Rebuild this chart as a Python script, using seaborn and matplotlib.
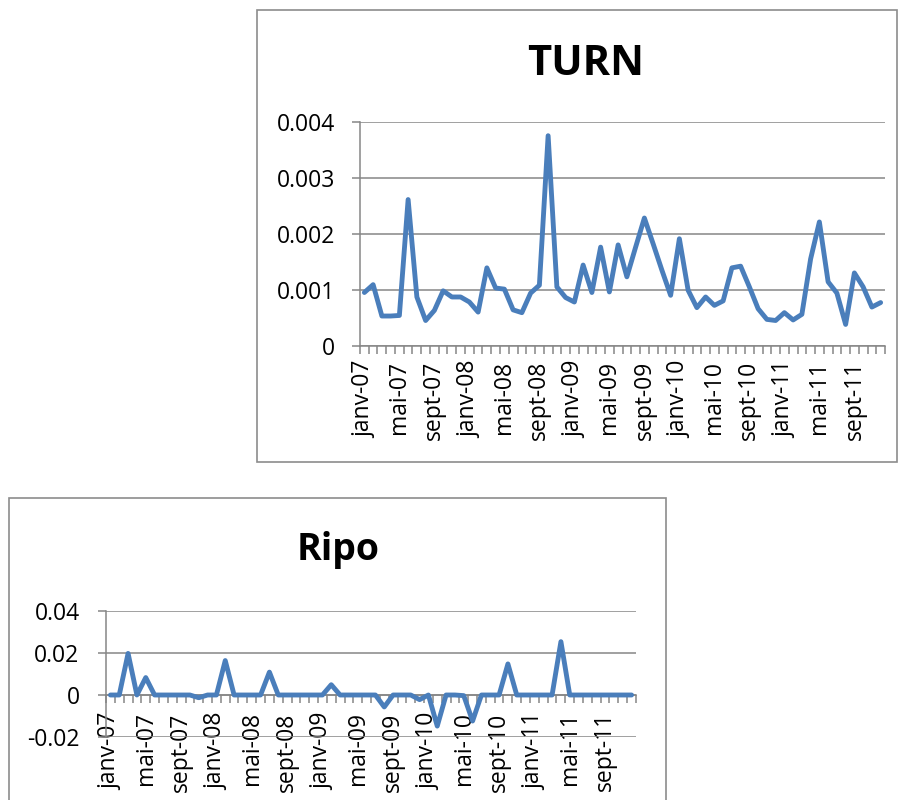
import matplotlib
matplotlib.use("Agg")
import matplotlib.pyplot as plt
from matplotlib.patches import Rectangle
import numpy as np
import pandas as pd
import seaborn as sns

# Monthly series, January 2007 to December 2011
month_names = ["janv", "févr", "mars", "avr", "mai", "juin",
               "juil", "août", "sept", "oct", "nov", "déc"]
years = ["07", "08", "09", "10", "11"]
periods = [f"{m}-{y}" for y in years for m in month_names]

turn = [0.00095, 0.00109, 0.00053, 0.00053, 0.00054, 0.00261, 0.00087, 0.00045, 0.00063, 0.00098,
        0.00087, 0.00087, 0.00078, 0.00060, 0.00139, 0.00103, 0.00101, 0.00064, 0.00059, 0.00094,
        0.00108, 0.00375, 0.00105, 0.00086, 0.00078, 0.00144, 0.00095, 0.00176, 0.00096, 0.00180,
        0.00123, 0.00176, 0.00228, 0.00182, 0.00135, 0.00090, 0.00191, 0.00099, 0.00068, 0.00087,
        0.00072, 0.00080, 0.00139, 0.00142, 0.00105, 0.00066, 0.00047, 0.00045, 0.00059, 0.00046,
        0.00056, 0.00155, 0.00221, 0.00114, 0.00094, 0.00038, 0.00130, 0.00105, 0.00069, 0.00077]

ripo = [0.0, 0.0, 0.0198, 0.0, 0.0083, 0.0, 0.0, 0.0, 0.0, 0.0,
        -0.0013, 0.0, 0.0, 0.0164, 0.0, 0.0, 0.0, 0.0, 0.0109, 0.0,
        0.0, 0.0, 0.0, 0.0, 0.0, 0.0049, 0.0, 0.0, 0.0, 0.0,
        0.0, -0.0057, 0.0, 0.0, 0.0, -0.0022, 0.0, -0.0148, 0.0, 0.0,
        -0.0003, -0.0124, 0.0, 0.0, 0.0, 0.0148, 0.0, 0.0, 0.0, 0.0,
        0.0, 0.0254, 0.0, 0.0, 0.0, 0.0, 0.0, 0.0, 0.0, 0.0]

turn_ticks = [0, 0.001, 0.002, 0.003, 0.004]
turn_tick_labels = ["0", "0.001", "0.002", "0.003", "0.004"]
ripo_ticks = [-0.02, 0, 0.02, 0.04]
ripo_tick_labels = ["-0.02", "0", "0.02", "0.04"]

LINE = "#4A7EBB"
GRID = "#868686"
FRAME = "#8C8C8C"

sns.set_style("white")
plt.rcParams["font.family"] = ["Open Sans", "DejaVu Sans"]
plt.rcParams["text.color"] = "black"

W, H = 904, 800
fig = plt.figure(figsize=(W / 100, H / 100), dpi=100)
fig.patch.set_facecolor("white")


def px_axes(left, top, right, bottom):
    return fig.add_axes([left / W, 1 - bottom / H, (right - left) / W, (bottom - top) / H])


def frame(left, top, right, bottom):
    fig.add_artist(Rectangle((left / W, 1 - bottom / H), (right - left) / W, (bottom - top) / H,
                             transform=fig.transFigure, fill=False, edgecolor=FRAME, lw=1.2))


def panel(ax, values, yticks, ylabels, ylim, label_pad, ypad, zero_axis=False):
    df = pd.DataFrame({"month": np.arange(len(values)), "value": values})
    sns.lineplot(data=df, x="month", y="value", ax=ax, color=LINE, lw=3.5,
                 solid_joinstyle="round", solid_capstyle="round", zorder=3)
    ax.set_xlim(-0.5, len(values) - 0.5)
    ax.set_ylim(*ylim)
    ax.set_xlabel("")
    ax.set_ylabel("")
    ax.set_facecolor("white")
    for s in ("top", "right"):
        ax.spines[s].set_visible(False)
    for s in ("left", "bottom"):
        ax.spines[s].set_color(GRID)
        ax.spines[s].set_linewidth(1.1)
    if zero_axis:
        ax.spines["bottom"].set_position(("data", 0))
    ax.set_yticks(yticks)
    ax.set_yticklabels(ylabels)
    ax.yaxis.grid(True, color=GRID, lw=1.1)
    ax.set_axisbelow(True)
    ax.tick_params(axis="y", direction="out", length=6, width=1.1, color=GRID,
                   labelsize=16.5, pad=ypad, left=True, labelcolor="black")
    # labels at every fourth month, tick marks between categories
    major = list(range(0, len(values), 4))
    ax.set_xticks(major)
    ax.set_xticklabels([periods[i] for i in major], rotation=90, ha="center", va="top")
    ax.set_xticks(np.arange(-0.5, len(values), 1.0), minor=True)
    ax.tick_params(axis="x", which="major", length=0, labelsize=16.5, pad=label_pad,
                   labelcolor="black")
    ax.tick_params(axis="x", which="minor", direction="out", length=6, width=1.1,
                   color=GRID, bottom=True)


# TURN panel
frame(257, 9.5, 897, 461.5)
ax1 = px_axes(360, 121.7, 885, 345.7)
panel(ax1, turn, turn_ticks, turn_tick_labels, (0, 0.004), label_pad=11, ypad=12)
fig.text(586 / W, 1 - 75 / H, "TURN", ha="center", va="baseline",
         fontsize=30, fontweight="bold", color="black")

# Ripo panel
frame(9, 498, 666, 830)
ax2 = px_axes(106, 611, 636, 737)
panel(ax2, ripo, ripo_ticks, ripo_tick_labels, (-0.02, 0.04), label_pad=12.5, ypad=13,
      zero_axis=True)
fig.text(338 / W, 1 - 560 / H, "Ripo", ha="center", va="baseline",
         fontsize=27, fontweight="bold", color="black")

fig.savefig("out.png", dpi=100)
